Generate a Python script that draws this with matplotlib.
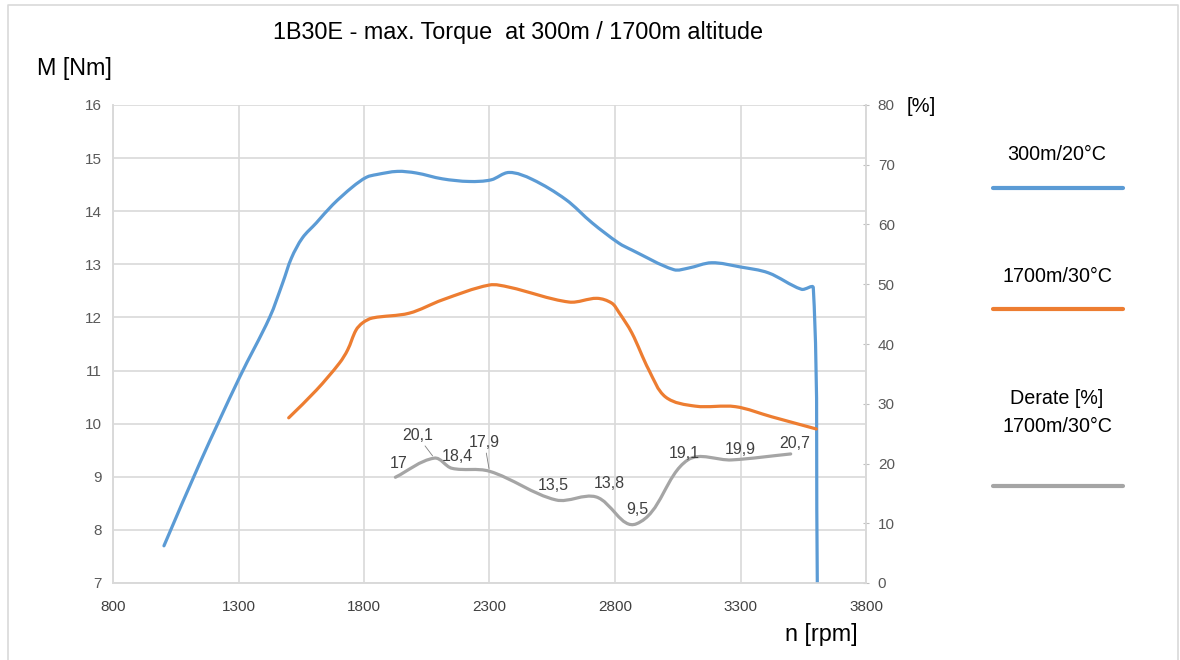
import matplotlib
matplotlib.use('Agg')
import numpy as np
import matplotlib.pyplot as plt
from matplotlib.path import Path
from matplotlib.patches import PathPatch
from matplotlib.lines import Line2D

plt.rcParams['font.family'] = ['Liberation Sans', 'DejaVu Sans']

# 300m / 20°C torque curve
rpm_300 = [1003, 1146, 1305, 1424, 1476, 1511, 1555, 1610, 1675, 1755, 1810, 1850,
           1933, 2008, 2112, 2219, 2306, 2378, 2470, 2604, 2709, 2815, 2867, 3034,
           3093, 3185, 3300, 3411, 3543, 3590, 3606]
torque_300 = [7.70, 9.26, 10.88, 12.00, 12.65, 13.12, 13.50, 13.78, 14.12, 14.46, 14.64, 14.69,
              14.75, 14.72, 14.61, 14.56, 14.59, 14.73, 14.60, 14.22, 13.78, 13.40, 13.27, 12.90,
              12.93, 13.03, 12.95, 12.84, 12.53, 12.56, 7.0]

# 1700m / 30°C torque curve
rpm_1700 = [1500, 1610, 1702, 1735, 1768, 1795, 1834, 1980, 2112, 2299, 2378, 2617,
            2728, 2787, 2815, 2867, 2935, 3002, 3120, 3280, 3424, 3602]
torque_1700 = [10.11, 10.63, 11.14, 11.39, 11.76, 11.90, 11.99, 12.08, 12.33, 12.61, 12.57, 12.29,
               12.36, 12.27, 12.10, 11.71, 11.01, 10.50, 10.33, 10.32, 10.13, 9.90]

# derate [%] 1700m / 30°C
derate_rpm = [1925, 2080, 2150, 2300, 2565, 2725, 2885, 3090, 3265, 3500]
derate_pct = [17.7, 20.9, 19.2, 18.7, 13.9, 14.4, 9.9, 20.6, 20.6, 21.6]
derate_labels = ['17', '20,1', '18,4', '17,9', '13,5', '13,8', '9,5', '19,1', '19,9', '20,7']

x_ticks = [800, 1300, 1800, 2300, 2800, 3300, 3800]
y_ticks = [7, 8, 9, 10, 11, 12, 13, 14, 15, 16]
y2_ticks = [0, 10, 20, 30, 40, 50, 60, 70, 80]

BLUE = '#5B9BD5'
ORANGE = '#ED7D31'
GRAY = '#A5A5A5'
GRID = '#D9D9D9'
TXT = '#595959'


def smooth_line(a, xs, ys, color):
    """Smoothed line through the points, bezier built in display space."""
    pts = a.transData.transform(np.column_stack([xs, ys]))
    n = len(pts)
    tang = []
    for i in range(n):
        d = pts[min(i + 1, n - 1)] - pts[max(i - 1, 0)]
        tang.append(d / np.hypot(*d))
    verts = [pts[0]]
    codes = [Path.MOVETO]
    for i in range(n - 1):
        seg = np.hypot(*(pts[i + 1] - pts[i]))
        verts += [pts[i] + tang[i] * seg / 3, pts[i + 1] - tang[i + 1] * seg / 3, pts[i + 1]]
        codes += [Path.CURVE4] * 3
    verts = a.transData.inverted().transform(np.array(verts))
    a.add_patch(PathPatch(Path(verts, codes), facecolor='none', edgecolor=color,
                          lw=2.3, capstyle='round', joinstyle='round', zorder=3))


fig = plt.figure(figsize=(11.8, 6.6), dpi=100)
ax = fig.add_axes([113 / 1180, 77 / 660, 753 / 1180, 478 / 660])
ax2 = ax.twinx()

ax.set_xlim(800, 3800)
ax.set_ylim(7, 16)
ax2.set_ylim(0, 80)
ax.set_xticks(x_ticks)
ax.set_yticks(y_ticks)
ax2.set_yticks(y2_ticks)
ax.grid(True, color=GRID, lw=1.2)
ax.set_axisbelow(True)

smooth_line(ax, rpm_300, torque_300, BLUE)
smooth_line(ax, rpm_1700, torque_1700, ORANGE)
smooth_line(ax2, derate_rpm, derate_pct, GRAY)

# data labels on derate curve (offsets in pixels)
offsets = [(3, 6), (-17, 15), (6, 4), (-5, 21), (-3, 7), (13, 6), (1, 7), (-4, -1), (9, 3), (4, 3)]
leader = [False, True, False, True, False, False, False, False, False, False]
for xv, yv, lab, off, ld in zip(derate_rpm, derate_pct, derate_labels, offsets, leader):
    ax2.annotate(lab, (xv, yv), xytext=off, textcoords='offset pixels',
                 ha='center', va='bottom', fontsize=11.5, color='#404040',
                 arrowprops=dict(arrowstyle='-', color='#7f7f7f', lw=0.6,
                                 shrinkA=0, shrinkB=2) if ld else None)

for a in (ax, ax2):
    for s in a.spines.values():
        s.set_color(GRID)
        s.set_linewidth(1.2)
    a.spines['top'].set_visible(False)
ax.tick_params(axis='both', length=0, labelsize=11, labelcolor=TXT, pad=8)
ax.tick_params(axis='x', pad=12, labelcolor='#404040')
ax2.tick_params(axis='y', length=5, direction='inout', color='#BFBFBF', labelsize=11,
                labelcolor=TXT, pad=6)

fig.text(518 / 1180, 1 - 32 / 660, '1B30E - max. Torque  at 300m / 1700m altitude',
         ha='center', va='center', fontsize=16.8)
fig.text(37 / 1180, 1 - 68 / 660, 'M [Nm]', ha='left', va='center', fontsize=16.8)
fig.text(858 / 1180, 1 - 635 / 660, 'n [rpm]', ha='right', va='center', fontsize=16.8)
fig.text(907 / 1180, 1 - 106 / 660, '[%]', ha='left', va='center', fontsize=14.5)

# legend on the right
legend_text = [('300m/20°C', 155), ('1700m/30°C', 276), ('Derate [%]', 398), ('1700m/30°C', 426)]
legend_lines = [(BLUE, 188), (ORANGE, 309), (GRAY, 486)]
for label, ty in legend_text:
    fig.text(1057 / 1180, 1 - ty / 660, label, ha='center', va='center', fontsize=14.2)
for col, ly in legend_lines:
    fig.add_artist(Line2D([993 / 1180, 1123 / 1180], [1 - ly / 660, 1 - ly / 660],
                          color=col, lw=3, solid_capstyle='round'))

# chart frame
fig.add_artist(Line2D([8 / 1180, 8 / 1180, 1178 / 1180, 1178 / 1180],
                      [0, 1 - 5 / 660, 1 - 5 / 660, 0], color=GRID, lw=1.2))

fig.savefig('out.png', dpi=100)
